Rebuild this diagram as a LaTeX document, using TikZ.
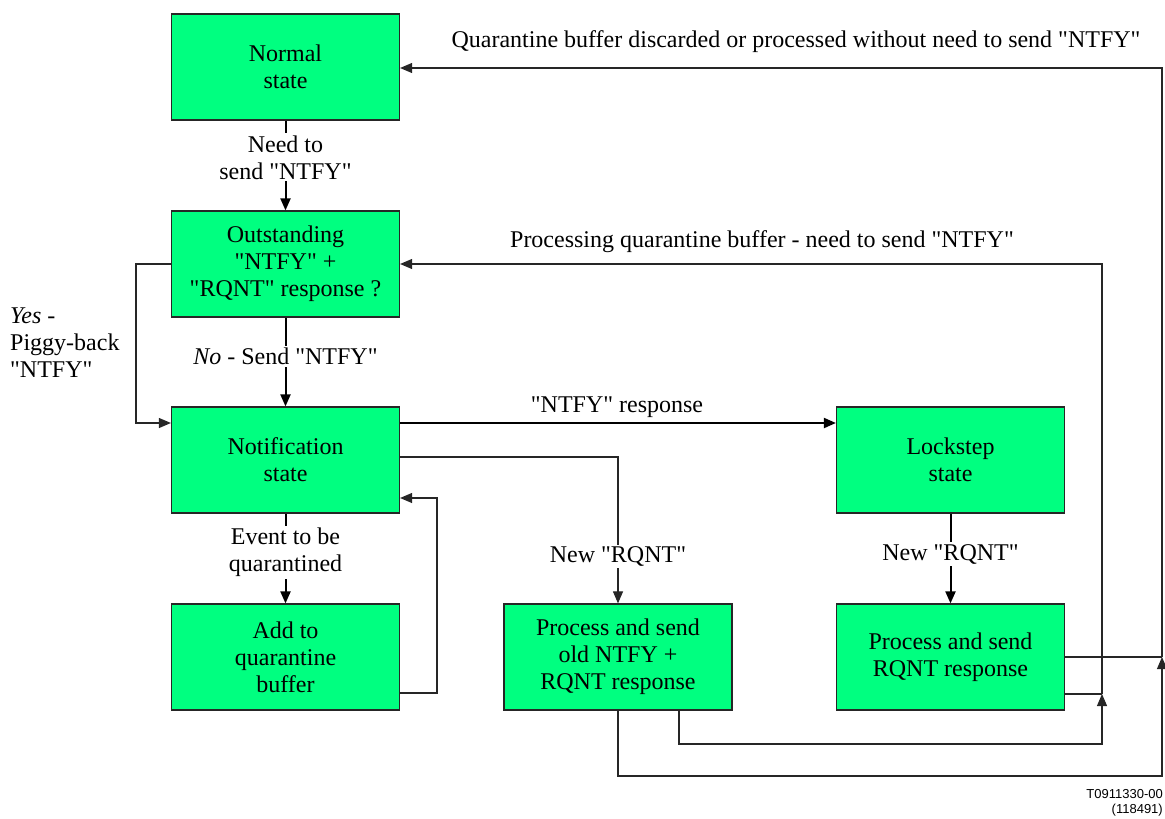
\documentclass[tikz,border=0pt]{standalone}
\usepackage{fontspec}
\setmainfont{Liberation Serif}[Ligatures=TeXOff]
\setsansfont{Liberation Sans}
\usetikzlibrary{arrows.meta}
\definecolor{boxgreen}{RGB}{0,255,128}
\newcommand{\myq}{\symbol{34}}
\begin{document}
\begin{tikzpicture}[x=1pt,y=-1pt,
  font=\fontsize{24}{27}\selectfont,
  box/.style={draw=black!85, line width=1.2pt, fill=boxgreen, minimum width=228pt, minimum height=106pt, align=center, inner sep=0pt},
  thin/.style={draw=black!85, line width=1.1pt},
  thk/.style={draw=black, line width=2pt},
  tip/.style={-{Triangle[length=12pt,width=10pt]}},
  lbl/.style={fill=white, inner sep=2pt, align=center},
  plain/.style={inner sep=0pt},
]
\useasboundingbox (0,0) rectangle (1165,819);

\node[box] (normal) at (285.5,67) {Normal\\state};
\node[box] (outst) at (285.5,264) {Outstanding\\\myq NTFY\myq\ +\\\myq RQNT\myq\ response ?};
\node[box] (notif) at (285.5,460) {Notification\\state};
\node[box] (add) at (285.5,657) {Add to\\quarantine\\buffer};
\node[box] (pold) at (618,657) {Process and send\\old NTFY +\\RQNT response};
\node[box] (lock) at (950.5,460) {Lockstep\\state};
\node[box] (prq) at (950.5,657) {Process and send\\RQNT response};

\coordinate (yA) at (136,264);
\coordinate (yB) at (136,423);
\coordinate (rA) at (437,693);
\coordinate (rB) at (437,498);
\coordinate (nq) at (618,457);
\coordinate (pA) at (679,744);
\coordinate (pB) at (1102,744);
\coordinate (pJ) at (1102,694);
\coordinate (pT) at (1102,264);
\coordinate (qA) at (618,776);
\coordinate (qB) at (1162,776);
\coordinate (qJ) at (1162,657);
\coordinate (qT) at (1162,68);

\draw[thk,tip] (normal) -- node[lbl,pos=0.41] (l1) {Need to\\send \myq NTFY\myq} (outst);
\draw[thk,tip] (outst) -- node[lbl,pos=0.44] (l2) {\textit{No} - Send \myq NTFY\myq} (notif);
\draw[thin,tip] (outst.west) -- (yA) -- (yB) -- (notif.west |- yB);
\draw[thk,tip] (notif.east |- yB) -- (lock.west |- yB);
\draw[thin,tip] (notif.east |- nq) -| node[lbl,pos=0.84] (l3) {New \myq RQNT\myq} (pold.north);
\draw[thk,tip] (notif) -- node[lbl,pos=0.43] (l4) {Event to be\\quarantined} (add);
\draw[thin,tip] (add.east |- rA) -- (rA) -- (rB) -- (notif.east |- rB);
\draw[thk,tip] (lock) -- node[lbl,pos=0.45] (l5) {New \myq RQNT\myq} (prq);
\draw[thin,tip] (pold.south -| pA) -- (pA) -- (pB) -- (pJ);
\draw[thin] (prq.east |- pJ) -- (pJ);
\draw[thin,tip] (pJ) -- (pT) -- (outst.east |- pT);
\draw[thin,tip] (pold.south) -- (qA) -- (qB) -- (qJ);
\draw[thin] (prq.east |- qJ) -- (qJ);
\draw[thin,tip] (qJ) -- (qT) -- (normal.east |- qT);

\node[plain,anchor=base] (lq) at (796,47) {Quarantine buffer discarded or processed without need to send \myq NTFY\myq};
\node[plain,anchor=base] (lp) at (762,247) {Processing quarantine buffer - need to send \myq NTFY\myq};
\node[plain,anchor=base] (lr) at (617,412) {\myq NTFY\myq\ response};
\node[plain,anchor=west,align=left] (ly) at (10,343) {\textit{Yes} -\\Piggy-back\\\myq NTFY\myq};
\node[plain,anchor=base east,font=\sffamily\fontsize{13}{15}\selectfont] (id1) at (1163,798) {T0911330-00};
\node[plain,anchor=base east,font=\sffamily\fontsize{13}{15}\selectfont] (id2) at (1163,813) {(118491)};
\end{tikzpicture}
\end{document}
